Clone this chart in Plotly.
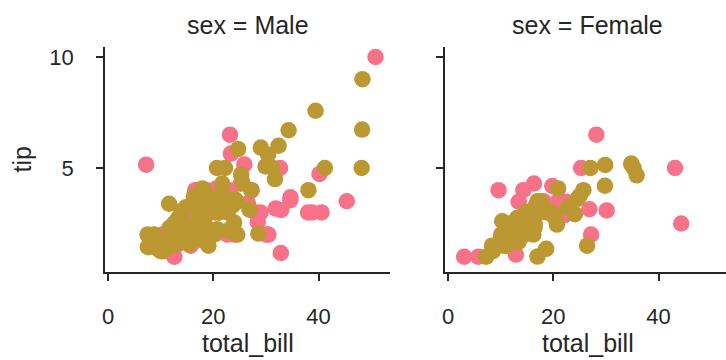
import plotly.graph_objects as go

# ---- data: tips dataset, split by sex (panel) and smoker (hue) ----
male_yes_bill = [38.01, 11.24, 20.29, 13.81, 11.02, 18.29, 15.01, 17.92, 19.44, 32.68,
                 28.97, 40.17, 27.28, 12.03, 21.01, 15.36, 20.49, 25.21, 16.0, 50.81,
                 15.81, 7.25, 31.85, 16.82, 32.9, 17.89, 14.48, 34.63, 34.65, 23.33,
                 45.35, 23.17, 40.55, 30.46, 23.1, 15.69, 28.44, 15.48, 16.58, 10.34,
                 13.51, 18.71, 20.53, 26.59, 38.73, 24.27, 30.06, 25.89, 28.15, 11.59,
                 7.74, 12.16, 8.58, 13.42, 24.01, 15.69, 15.53, 12.6, 32.83, 22.67]
male_yes_tip = [3.0, 1.76, 3.21, 2.0, 1.98, 3.76, 2.09, 3.08, 3.0, 5.0,
                3.0, 4.73, 4.0, 1.5, 3.0, 1.64, 4.06, 4.29, 2.0, 10.0,
                3.16, 5.15, 3.18, 4.0, 3.11, 2.0, 2.0, 3.55, 3.68, 5.65,
                3.5, 6.5, 3.0, 2.0, 4.0, 1.5, 2.56, 2.02, 4.0, 2.0,
                2.0, 4.0, 4.0, 3.41, 3.0, 2.03, 2.0, 5.16, 3.0, 1.5,
                1.44, 2.2, 1.92, 1.58, 2.0, 3.0, 3.0, 1.0, 1.17, 2.0]

male_no_bill = [10.34, 21.01, 23.68, 25.29, 8.77, 26.88, 15.04, 14.78, 10.27, 15.42,
                18.43, 21.58, 16.29, 20.65, 17.92, 39.42, 19.82, 17.81, 13.37, 12.69,
                21.7, 9.55, 18.35, 17.78, 24.06, 16.31, 18.69, 31.27, 16.04, 17.46,
                13.94, 9.68, 30.4, 18.29, 22.23, 32.4, 28.55, 18.04, 12.54, 9.94,
                25.56, 19.49, 48.27, 17.59, 20.08, 20.23, 12.02, 10.51, 27.2, 22.76,
                17.29, 16.66, 15.98, 13.03, 18.28, 24.71, 21.16, 22.49, 12.46, 18.24,
                14.0, 38.07, 23.95, 29.93, 11.69, 14.26, 15.95, 8.52, 22.82, 19.08,
                34.3, 41.19, 9.78, 7.51, 14.07, 13.13, 17.26, 24.55, 19.77, 48.17,
                16.49, 21.5, 12.66, 13.81, 24.52, 20.76, 31.71, 20.69, 7.56, 48.33,
                20.45, 13.28, 11.61, 10.77, 10.07, 29.03, 17.82]
male_no_tip = [1.66, 3.5, 3.31, 4.71, 2.0, 3.12, 1.96, 3.23, 1.71, 1.57,
               3.0, 3.92, 3.71, 3.35, 4.08, 7.58, 3.18, 2.34, 2.0, 2.0,
               4.3, 1.45, 2.5, 3.27, 3.6, 2.0, 2.31, 5.0, 2.24, 2.54,
               3.06, 1.32, 5.6, 3.0, 5.0, 6.0, 2.05, 3.0, 2.5, 1.56,
               4.34, 3.51, 6.73, 2.64, 3.15, 2.01, 1.97, 1.25, 4.0, 3.0,
               2.71, 3.4, 2.03, 2.0, 4.0, 5.85, 3.0, 3.5, 1.5, 3.76,
               3.0, 4.0, 2.55, 5.07, 2.31, 2.5, 2.0, 1.48, 2.18, 1.5,
               6.7, 5.0, 1.73, 2.0, 2.5, 2.0, 2.74, 2.0, 2.0, 5.0,
               2.0, 3.5, 2.5, 2.0, 3.48, 2.24, 4.5, 5.0, 1.44, 9.0,
               3.0, 2.72, 3.39, 1.47, 1.25, 5.92, 1.75]

female_yes_bill = [3.07, 26.86, 25.28, 5.75, 16.32, 11.35, 15.38, 44.3, 22.42, 14.31,
                   17.51, 10.59, 10.63, 9.6, 20.9, 18.15, 19.81, 43.11, 13.0, 12.74,
                   13.0, 16.4, 16.47, 12.76, 13.27, 28.17, 12.9, 30.14, 13.42, 16.27,
                   10.09, 22.12, 27.18]
female_yes_tip = [1.0, 3.14, 5.0, 1.0, 4.3, 2.5, 3.0, 2.5, 3.48, 4.0,
                  3.0, 1.61, 2.0, 4.0, 3.5, 3.5, 4.19, 5.0, 2.0, 2.01,
                  2.0, 2.5, 3.23, 2.23, 2.5, 6.5, 1.1, 3.09, 3.48, 2.5,
                  2.0, 2.88, 2.0]

female_no_bill = [16.99, 24.59, 35.26, 14.83, 10.33, 16.97, 20.29, 15.77, 19.65, 15.06,
                  20.69, 16.93, 10.29, 34.81, 26.41, 16.45, 17.07, 14.73, 10.07, 34.83,
                  22.75, 20.92, 7.25, 25.71, 17.31, 10.65, 12.43, 24.08, 13.42, 12.48,
                  29.8, 14.52, 11.38, 20.27, 11.17, 12.26, 18.26, 8.51, 10.33, 14.15,
                  13.16, 17.47, 27.05, 16.43, 8.35, 18.64, 11.87, 29.85, 25.0, 13.39,
                  16.21, 15.98, 35.83, 18.78]
female_no_tip = [1.01, 3.61, 5.0, 3.02, 1.67, 3.5, 2.75, 2.23, 3.0, 3.0,
                 2.45, 3.07, 2.6, 5.2, 1.5, 2.47, 3.0, 2.2, 1.83, 5.17,
                 3.25, 4.08, 1.0, 4.0, 3.5, 1.5, 1.8, 2.92, 1.68, 2.52,
                 4.2, 2.0, 2.0, 2.83, 1.5, 2.0, 3.25, 1.25, 2.0, 2.0,
                 2.75, 3.5, 5.0, 2.3, 1.5, 1.36, 1.63, 5.14, 3.75, 2.61,
                 2.0, 3.0, 4.67, 3.0]

panel_titles = ["sex = Male", "sex = Female"]
x_ticks = [0, 20, 40]
y_ticks = [5, 10]

COL_YES = "#f77189"
COL_NO = "#bb9832"
INK = "#262626"
FONT = "Liberation Sans, Arial, sans-serif"
MSIZE = 16.5

fig = go.Figure()


def add(xs, ys, color, xa, ya, name):
    fig.add_trace(go.Scatter(
        x=xs, y=ys, mode="markers", name=name, xaxis=xa, yaxis=ya,
        marker=dict(color=color, size=MSIZE, line=dict(width=0)),
        showlegend=False, cliponaxis=False))


add(male_yes_bill, male_yes_tip, COL_YES, "x", "y", "Yes")
add(male_no_bill, male_no_tip, COL_NO, "x", "y", "No")
add(female_yes_bill, female_yes_tip, COL_YES, "x2", "y2", "Yes")
add(female_no_bill, female_no_tip, COL_NO, "x2", "y2", "No")

W, H = 726, 360
ML, MR, MT, MB = 105, 0, 47, 88
PW = W - ML - MR
panel_px = 285
gap_px = 55

axis_common = dict(
    showgrid=False, zeroline=False, showline=True, linecolor=INK, linewidth=1.5,
    ticks="outside", ticklen=7, tickwidth=1.5, tickcolor=INK,
    tickfont=dict(family=FONT, size=22, color=INK),
)

x_lo = -0.57
px_per_unit = 105.3 / 20

fig.update_layout(
    width=W, height=H,
    margin=dict(l=ML, r=MR, t=MT, b=MB, pad=0),
    paper_bgcolor="white", plot_bgcolor="white",
    xaxis=dict(domain=[0, panel_px / PW], range=[x_lo, x_lo + panel_px / px_per_unit],
               tickvals=x_ticks, anchor="y", ticklabelstandoff=17, **axis_common),
    xaxis2=dict(domain=[(panel_px + gap_px) / PW, 1],
                range=[x_lo, x_lo + (PW - panel_px - gap_px) / px_per_unit],
                tickvals=x_ticks, anchor="y2", ticklabelstandoff=17, **axis_common),
    yaxis=dict(domain=[0, 1], range=[0.315, 10.45], tickvals=y_ticks, anchor="x",
               ticklabelstandoff=18, **axis_common),
    yaxis2=dict(domain=[0, 1], range=[0.315, 10.45], tickvals=y_ticks, anchor="x2",
                matches="y", showticklabels=False, **axis_common),
)

left_center = (panel_px / 2) / PW
right_center = (panel_px + gap_px + panel_px / 2) / PW
annos = []
for cx, t in zip([left_center, right_center], panel_titles):
    annos.append(dict(text=t, x=cx, y=1, xref="paper", yref="paper",
                      xanchor="center", yanchor="bottom", yshift=6, showarrow=False,
                      font=dict(family=FONT, size=25, color=INK)))
    annos.append(dict(text="total_bill", x=cx, y=0, xref="paper", yref="paper",
                      xanchor="center", yanchor="top", yshift=-55, showarrow=False,
                      font=dict(family=FONT, size=25, color=INK)))
annos.append(dict(text="tip", x=0, y=0.5, xref="paper", yref="paper", textangle=-90,
                  xanchor="right", yanchor="middle", xshift=-68, showarrow=False,
                  font=dict(family=FONT, size=25, color=INK)))
fig.update_layout(annotations=annos)

fig.write_html("out.html", config={"displayModeBar": False},
               post_script="document.body.style.margin='0';document.body.style.padding='0';")
